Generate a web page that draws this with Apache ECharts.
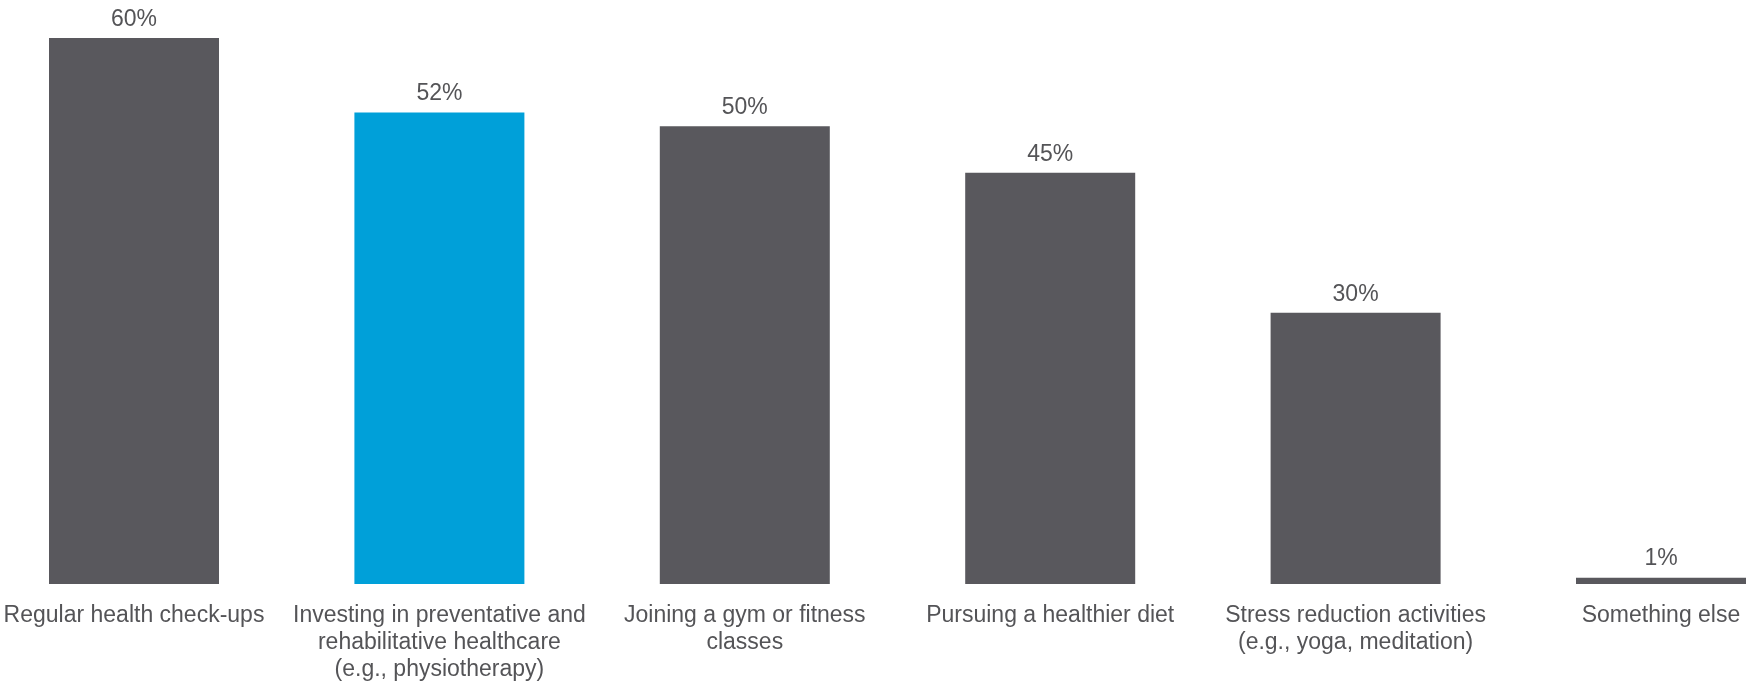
<!DOCTYPE html>
<html>
<head>
<meta charset="utf-8">
<script src="https://cdn.jsdelivr.net/npm/echarts@6/dist/echarts.min.js"></script>
<style>
html,body{margin:0;padding:0;background:#fff;}
#chart{width:1753px;height:683px;}
</style>
</head>
<body>
<div id="chart"></div>
<script>
const categories = [
  "Regular health check-ups",
  "Investing in preventative and\nrehabilitative healthcare\n(e.g., physiotherapy)",
  "Joining a gym or fitness\nclasses",
  "Pursuing a healthier diet",
  "Stress reduction activities\n(e.g., yoga, meditation)",
  "Something else"
];
const values = [60, 51.8, 50.3, 45.2, 29.8, 0.7];
const highlightIndex = 1;

const GRAY = '#59585d';
const BLUE = '#00a0d9';

const chart = echarts.init(document.getElementById('chart'), null, {renderer: 'canvas'});
chart.setOption({
  animation: false,
  backgroundColor: '#ffffff',
  grid: {left: 134, right: 92, top: 38, bottom: 99, containLabel: false},
  xAxis: {
    type: 'category',
    data: categories,
    boundaryGap: false,
    axisLine: {show: false},
    axisTick: {show: false},
    splitLine: {show: false},
    axisLabel: {
      interval: 0,
      margin: 18,
      color: '#545457',
      fontFamily: 'Liberation Sans, Arial, sans-serif',
      fontSize: 23,
      lineHeight: 27,
      align: 'center'
    }
  },
  yAxis: {
    type: 'value',
    min: 0,
    max: 60,
    show: false,
    splitLine: {show: false}
  },
  series: [{
    type: 'bar',
    barWidth: 170,
    data: values.map((v, i) => ({
      value: v,
      itemStyle: {color: i === highlightIndex ? BLUE : GRAY}
    })),
    label: {
      show: true,
      position: 'top',
      distance: 7,
      formatter: p => Math.round(p.value) + '%',
      color: '#545457',
      fontFamily: 'Liberation Sans, Arial, sans-serif',
      fontSize: 23
    }
  }]
});
</script>
</body>
</html>
